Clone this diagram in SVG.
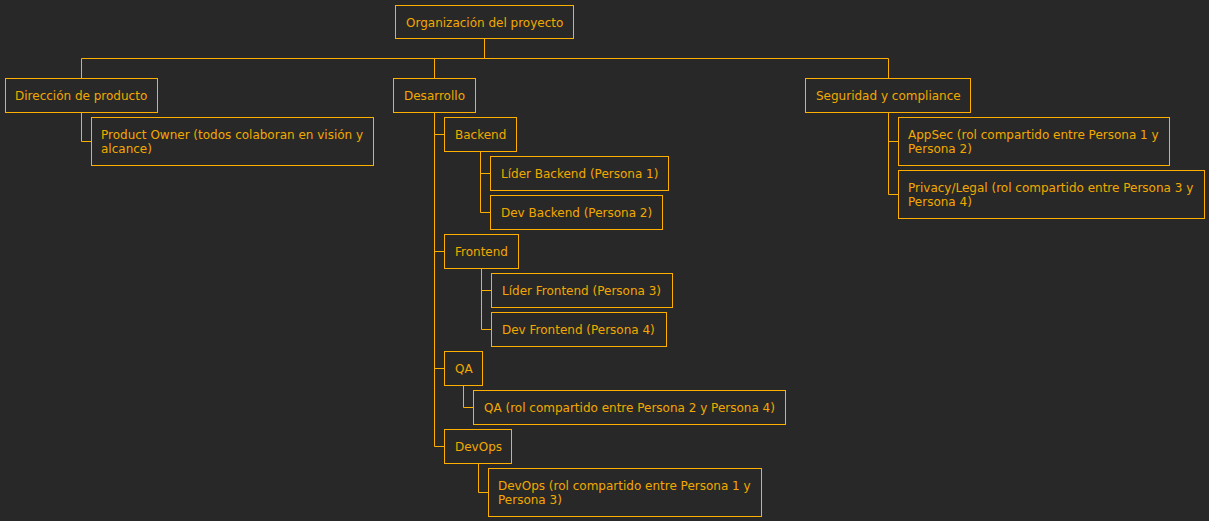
<svg xmlns="http://www.w3.org/2000/svg" width="1209" height="521" viewBox="0 0 1209 521">
<style>
.bg{fill:#282828}
.box{fill:#282828;stroke:#FFAF00;stroke-width:1}
.lbl{font-family:"DejaVu Sans",Verdana,sans-serif;font-size:12px;fill:#F2A800}
.ln{fill:none;stroke:#FFAF00;stroke-width:1}
</style>
<rect class="bg" x="0" y="0" width="1209" height="521"/>
<g id="connectors">
<path class="ln" d="M484.5 38 V58.5 M81.5 58.5 H888.5 M81.5 58.5 V78 M434.5 58.5 V78 M888.5 58.5 V78"/>
<path class="ln" d="M81.5 112 V141.5 H91"/>
<path class="ln" d="M434.5 112 V446.5 M434.5 134.5 H444 M434.5 251.5 H444 M434.5 368.5 H444 M434.5 446.5 H444"/>
<path class="ln" d="M480.5 151 V212.5 M480.5 173.5 H490 M480.5 212.5 H490"/>
<path class="ln" d="M481.5 268 V329.5 M481.5 290.5 H491 M481.5 329.5 H491"/>
<path class="ln" d="M463.5 385 V407.5 H473"/>
<path class="ln" d="M478.5 463 V492.5 H488"/>
<path class="ln" d="M888.5 112 V194.5 M888.5 141.5 H898 M888.5 194.5 H898"/>
</g>
<g id="root"><rect class="box" x="395.5" y="5.5" width="178" height="33"/><text class="lbl" x="406" y="27">Organización del proyecto</text></g>
<g id="direccion"><rect class="box" x="5.5" y="78.5" width="152" height="34"/><text class="lbl" x="15" y="100">Dirección de producto</text></g>
<g id="product-owner"><rect class="box" x="91.5" y="117.5" width="282" height="48"/><text class="lbl" x="101" y="139">Product Owner (todos colaboran en visión y</text><text class="lbl" x="101" y="153">alcance)</text></g>
<g id="desarrollo"><rect class="box" x="393.5" y="78.5" width="82" height="34"/><text class="lbl" x="404" y="100">Desarrollo</text></g>
<g id="backend"><rect class="box" x="444.5" y="117.5" width="72" height="34"/><text class="lbl" x="455" y="139">Backend</text></g>
<g id="lider-backend"><rect class="box" x="490.5" y="156.5" width="178" height="34"/><text class="lbl" x="501" y="178">Líder Backend (Persona 1)</text></g>
<g id="dev-backend"><rect class="box" x="490.5" y="195.5" width="172" height="34"/><text class="lbl" x="501" y="217">Dev Backend (Persona 2)</text></g>
<g id="frontend"><rect class="box" x="444.5" y="234.5" width="74" height="34"/><text class="lbl" x="455" y="256">Frontend</text></g>
<g id="lider-frontend"><rect class="box" x="491.5" y="273.5" width="181" height="34"/><text class="lbl" x="502" y="295">Líder Frontend (Persona 3)</text></g>
<g id="dev-frontend"><rect class="box" x="491.5" y="312.5" width="175" height="34"/><text class="lbl" x="502" y="334">Dev Frontend (Persona 4)</text></g>
<g id="qa"><rect class="box" x="444.5" y="351.5" width="38" height="34"/><text class="lbl" x="455" y="373">QA</text></g>
<g id="qa-rol"><rect class="box" x="473.5" y="390.5" width="312" height="34"/><text class="lbl" x="484" y="412">QA (rol compartido entre Persona 2 y Persona 4)</text></g>
<g id="devops"><rect class="box" x="444.5" y="429.5" width="67" height="34"/><text class="lbl" x="455" y="451">DevOps</text></g>
<g id="devops-rol"><rect class="box" x="488.5" y="468.5" width="273" height="48"/><text class="lbl" x="498" y="490">DevOps (rol compartido entre Persona 1 y</text><text class="lbl" x="498" y="504">Persona 3)</text></g>
<g id="seguridad"><rect class="box" x="805.5" y="78.5" width="165" height="34"/><text class="lbl" x="816" y="100">Seguridad y compliance</text></g>
<g id="appsec"><rect class="box" x="898.5" y="117.5" width="271" height="48"/><text class="lbl" x="908" y="139">AppSec (rol compartido entre Persona 1 y</text><text class="lbl" x="908" y="153">Persona 2)</text></g>
<g id="privacy"><rect class="box" x="898.5" y="170.5" width="306" height="48"/><text class="lbl" x="908" y="192">Privacy/Legal (rol compartido entre Persona 3 y</text><text class="lbl" x="908" y="206">Persona 4)</text></g>
</svg>
